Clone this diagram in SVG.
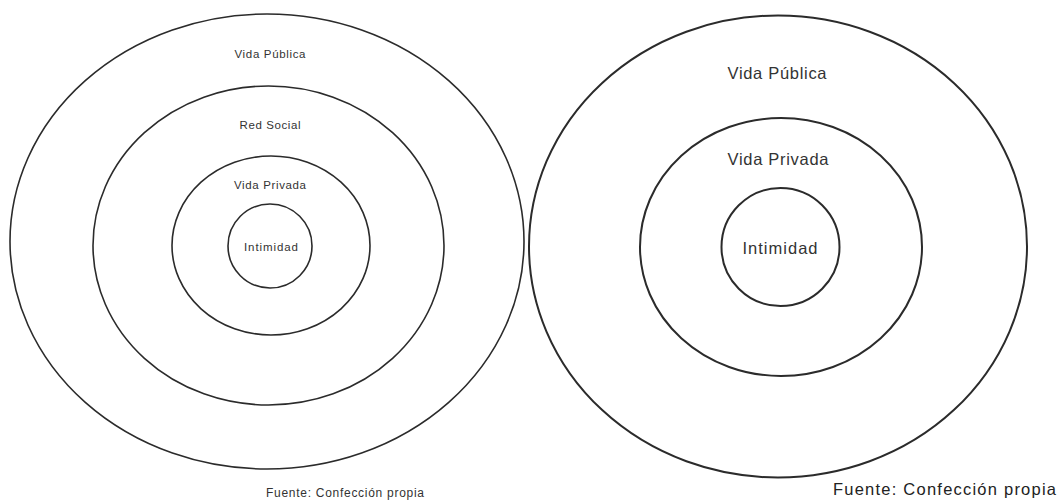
<svg xmlns="http://www.w3.org/2000/svg" width="1058" height="504" viewBox="0 0 1058 504">
<style>
.ring{fill:none;stroke:#2b2b2b;stroke-width:1.6}
.ringR{fill:none;stroke:#2b2b2b;stroke-width:2}
.s{font-family:"Liberation Sans",Arial,sans-serif;font-size:11.5px;fill:#333;text-anchor:middle}
.l{font-family:"Liberation Sans",Arial,sans-serif;font-size:16.5px;fill:#333;text-anchor:middle}
.f1{font-family:"Liberation Sans",Arial,sans-serif;font-size:12px;fill:#333}
.f2{font-family:"Liberation Sans",Arial,sans-serif;font-size:16.5px;fill:#222}
</style>
<rect width="1058" height="504" fill="#fff"/>
<g id="left">
<g id="left-publica"><ellipse class="ring" cx="267" cy="241.5" rx="257" ry="227.5"/><text class="s" x="270" y="58" textLength="71">Vida Pública</text></g>
<g id="left-social"><ellipse class="ring" cx="268.5" cy="245.5" rx="175.5" ry="159.5"/><text class="s" x="270" y="129" textLength="61">Red Social</text></g>
<g id="left-privada"><ellipse class="ring" cx="271" cy="245.5" rx="99" ry="89.5"/><text class="s" x="270" y="189" textLength="72">Vida Privada</text></g>
<g id="left-intimidad"><circle class="ring" cx="270" cy="246" r="42"/><text class="s" x="271" y="251" textLength="54">Intimidad</text></g>
<text class="f1" x="266" y="497" textLength="158">Fuente:  Confección propia</text>
</g>
<g id="right">
<g id="right-publica"><ellipse class="ringR" cx="778" cy="246.5" rx="249" ry="231"/><text class="l" x="777" y="79" textLength="99">Vida Pública</text></g>
<g id="right-privada"><ellipse class="ringR" cx="781" cy="247" rx="141" ry="129"/><text class="l" x="778" y="165" textLength="101">Vida Privada</text></g>
<g id="right-intimidad"><circle class="ringR" cx="780.5" cy="247" r="59"/><text class="l" x="780" y="254" textLength="75">Intimidad</text></g>
<text class="f2" x="833" y="495" textLength="223">Fuente:  Confección propia</text>
</g>
<g id="connectors"/>
</svg>
